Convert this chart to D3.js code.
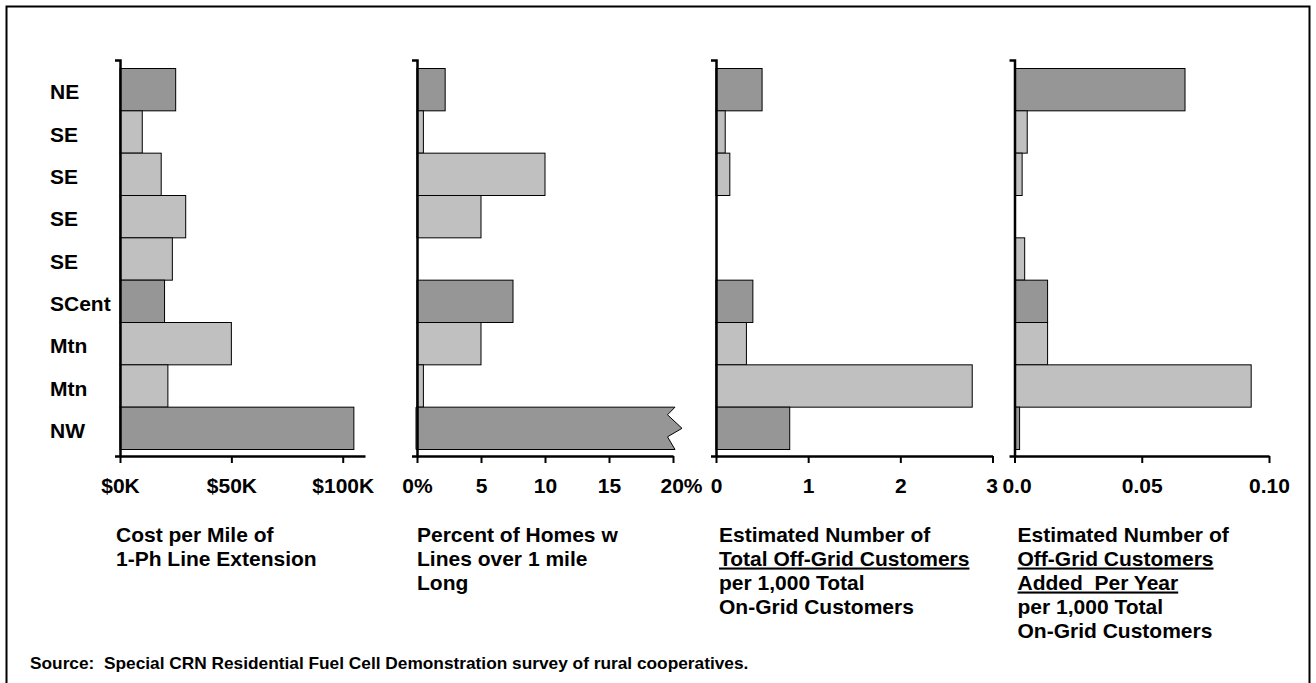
<!DOCTYPE html>
<html>
<head>
<meta charset="utf-8">
<script src="https://cdn.jsdelivr.net/npm/d3@7"></script>
<style>
  html, body { margin: 0; padding: 0; background: #fff; }
  svg { display: block; font-family: "Liberation Sans", Arial, sans-serif; font-weight: bold; }
</style>
</head>
<body>
<svg id="chart" width="1316" height="683"></svg>
<script>
// ---------- data ----------
const regions = ["NE", "SE", "SE", "SE", "SE", "SCent", "Mtn", "Mtn", "NW"];
const shades = ["dark", "light", "light", "light", "light", "dark", "light", "light", "dark"];

const costPerMile = [25000, 10000, 18500, 29500, 23500, 20000, 50000, 21500, 105000];
const pctLongLines = [2.2, 0.5, 10, 5, 0, 7.5, 5, 0.5, 25]; // NW exceeds the 20% axis (broken bar)
const totalOffGrid = [0.5, 0.1, 0.15, 0, 0, 0.4, 0.33, 2.78, 0.8];
const addedPerYear = [0.067, 0.005, 0.003, 0, 0.004, 0.013, 0.013, 0.093, 0.002];

const costTicks = [0, 50000, 100000];
const costTickLabels = ["$0K", "$50K", "$100K"];
const pctTicks = [0, 5, 10, 15, 20];
const pctTickLabels = ["0%", "5", "10", "15", "20%"];
const totalTicks = [0, 1, 2, 3];
const totalTickLabels = ["0", "1", "2", "3"];
const addedTicks = [0, 0.05, 0.10];
const addedTickLabels = ["0.0", "0.05", "0.10"];

const costTitle = [["Cost per Mile of", false], ["1-Ph Line Extension", false]];
const pctTitle = [["Percent of Homes w", false], ["Lines over 1 mile", false], ["Long", false]];
const totalTitle = [["Estimated Number of", false], ["Total Off-Grid Customers", true], ["per 1,000 Total", false], ["On-Grid Customers", false]];
const addedTitle = [["Estimated Number of", false], ["Off-Grid Customers", true], ["Added  Per Year", true], ["per 1,000 Total", false], ["On-Grid Customers", false]];

const sourceText = "Source:  Special CRN Residential Fuel Cell Demonstration survey of rural cooperatives.";

// ---------- layout ----------
const colors = { dark: "#969696", light: "#c0c0c0" };
const axisTop = 60, axisBottom = 456;
const panels = [
  { values: costPerMile, domain: [0, 110000], range: [120, 365], ticks: costTicks, labels: costTickLabels, title: costTitle, titleX: 116, lastDx: 0, firstDx: 0 },
  { values: pctLongLines, domain: [0, 20], range: [417, 673], ticks: pctTicks, labels: pctTickLabels, title: pctTitle, titleX: 417, lastDx: 8, firstDx: 0 },
  { values: totalOffGrid, domain: [0, 3], range: [716, 992.5], ticks: totalTicks, labels: totalTickLabels, title: totalTitle, titleX: 719, lastDx: -1, firstDx: 0 },
  { values: addedPerYear, domain: [0, 0.1], range: [1014.5, 1269], ticks: addedTicks, labels: addedTickLabels, title: addedTitle, titleX: 1017.5, lastDx: 0, firstDx: 2 }
];

const svg = d3.select("#chart");

// outer frame
svg.append("rect")
  .attr("x", 6.5).attr("y", 6.5).attr("width", 1303).attr("height", 700)
  .attr("fill", "none").attr("stroke", "#000").attr("stroke-width", 2);

const y = d3.scaleBand().domain(d3.range(regions.length)).range([68.5, 449.5]).padding(0);

// category labels
svg.append("g").selectAll("text").data(regions).join("text")
  .attr("x", 50)
  .attr("y", (d, i) => y(i) + y.bandwidth() / 2 + 2)
  .attr("dominant-baseline", "central")
  .attr("font-size", 21)
  .attr("fill", "#000")
  .text(d => d);

panels.forEach(p => {
  const x = d3.scaleLinear().domain(p.domain).range(p.range);
  const g = svg.append("g");
  const maxV = p.domain[1];
  const x0 = x(0);

  // normal bars
  g.selectAll("rect.bar").data(p.values.map((v, i) => ({ v, i })).filter(d => d.v > 0 && d.v <= maxV))
    .join("rect")
    .attr("class", "bar")
    .attr("x", x0)
    .attr("y", d => y(d.i))
    .attr("width", d => x(d.v) - x0)
    .attr("height", y.bandwidth())
    .attr("fill", d => colors[shades[d.i]])
    .attr("stroke", "#000")
    .attr("stroke-width", 1);

  // broken bars (value beyond axis)
  g.selectAll("path.broken").data(p.values.map((v, i) => ({ v, i })).filter(d => d.v > maxV))
    .join("path")
    .attr("class", "broken")
    .attr("d", d => {
      const xe = x(maxV), t = y(d.i), h = y.bandwidth();
      return `M${x0 - 1},${t} L${xe + 2},${t} L${xe - 5.5},${t + h * 0.18} L${xe + 9},${t + h * 0.5} L${xe - 5.5},${t + h * 0.7} L${xe + 2},${t + h} L${x0 - 1},${t + h} Z`;
    })
    .attr("fill", d => colors[shades[d.i]])
    .attr("stroke", "#000")
    .attr("stroke-width", 1);

  // y axis (end hooks only)
  const yl = d3.scaleLinear().domain([0, 1]).range([axisBottom, axisTop]);
  const ya = g.append("g").attr("transform", `translate(${x0},0)`)
    .call(d3.axisLeft(yl).tickValues([]).tickSizeOuter(5));
  ya.select(".domain").attr("stroke", "#000").attr("stroke-width", 2.5);

  // x axis
  const xa = g.append("g").attr("transform", `translate(0,${axisBottom})`)
    .call(d3.axisBottom(x).tickValues(p.ticks).tickSize(7).tickSizeOuter(0)
      .tickFormat((d, i) => p.labels[i]));
  xa.select(".domain").attr("stroke", "#000").attr("stroke-width", 2.5);
  xa.selectAll(".tick line").attr("stroke", "#000").attr("stroke-width", 2);
  xa.selectAll(".tick text")
    .attr("y", 37).attr("dy", 0)
    .attr("font-family", "Liberation Sans, Arial, sans-serif")
    .attr("font-weight", "bold")
    .attr("font-size", 21)
    .attr("fill", "#000")
    .attr("dx", (d, i) => i === p.labels.length - 1 ? p.lastDx : (i === 0 ? p.firstDx : 0));

  // title
  const tg = g.append("g");
  p.title.forEach((ln, i) => {
    tg.append("text")
      .attr("x", p.titleX)
      .attr("y", 541.5 + i * 24)
      .attr("font-size", 21)
      .attr("fill", "#000")
      .attr("xml:space", "preserve")
      .style("white-space", "pre")
      .style("text-decoration", ln[1] ? "underline" : "none")
      .text(ln[0]);
  });
});

// source line
svg.append("text")
  .attr("x", 30).attr("y", 669)
  .attr("font-size", 17.3)
  .attr("fill", "#000")
  .style("white-space", "pre")
  .text(sourceText);
</script>
</body>
</html>
